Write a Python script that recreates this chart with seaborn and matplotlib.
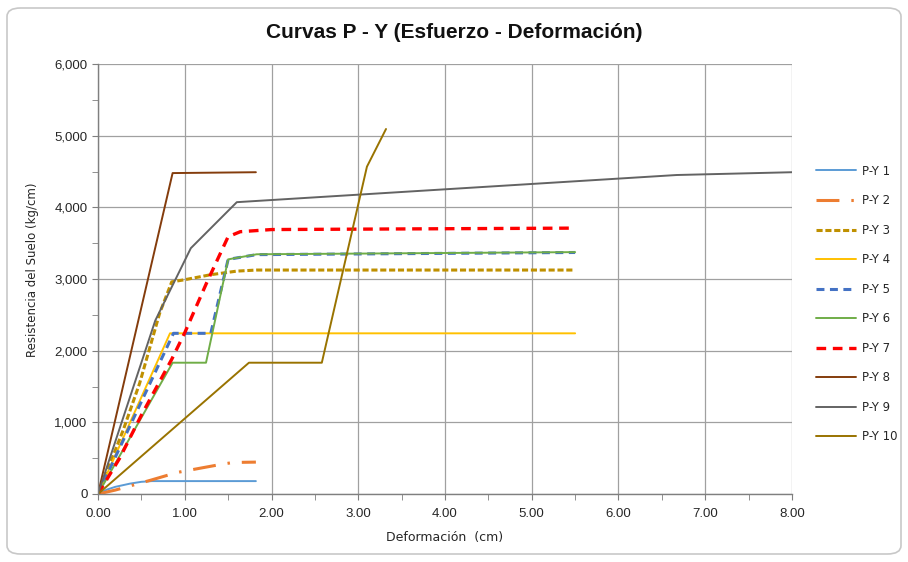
import matplotlib
matplotlib.use("Agg")
import matplotlib.pyplot as plt
import numpy as np
import pandas as pd
import seaborn as sns
from matplotlib.patches import FancyBboxPatch
from matplotlib.ticker import MultipleLocator, FuncFormatter

# ---- data (deformation cm, resistance kg/cm) ----
series_names = ["P-Y 1", "P-Y 2", "P-Y 3", "P-Y 4", "P-Y 5",
                "P-Y 6", "P-Y 7", "P-Y 8", "P-Y 9", "P-Y 10"]

py1_x = [0.0, 0.1, 0.2, 0.37, 0.5, 0.62, 1.82]
py1_y = [0, 60, 100, 145, 170, 180, 180]

py2_x = [0.0, 0.2, 0.41, 0.6, 0.91, 1.2, 1.44, 1.56, 1.82]
py2_y = [0, 55, 126, 190, 300, 365, 418, 440, 445]

py3_x = [0.0, 0.29, 0.48, 0.71, 0.85, 1.0, 1.3, 1.6, 1.83, 5.5]
py3_y = [0, 890, 1545, 2520, 2960, 2990, 3060, 3110, 3125, 3125]

py4_x = [0.0, 0.83, 5.5]
py4_y = [0, 2242, 2242]

py5_x = [0.0, 0.87, 1.30, 1.50, 1.83, 5.5]
py5_y = [0, 2242, 2242, 3274, 3340, 3370]

py6_x = [0.0, 0.86, 1.245, 1.50, 1.83, 5.5]
py6_y = [0, 1832, 1832, 3274, 3345, 3375]

py7_x = [0.0, 0.25, 0.5, 0.85, 1.0, 1.25, 1.5, 1.64, 2.0, 5.5]
py7_y = [0, 500, 1100, 1880, 2250, 2940, 3590, 3660, 3690, 3710]

py8_x = [0.0, 0.86, 1.82]
py8_y = [0, 4478, 4490]

py9_x = [0.0, 0.66, 1.07, 1.60, 6.67, 8.0]
py9_y = [0, 2420, 3430, 4072, 4451, 4490]

py10_x = [0.0, 1.74, 2.58, 3.10, 3.32]
py10_y = [0, 1832, 1832, 4567, 5093]

xs = [py1_x, py2_x, py3_x, py4_x, py5_x, py6_x, py7_x, py8_x, py9_x, py10_x]
ys = [py1_y, py2_y, py3_y, py4_y, py5_y, py6_y, py7_y, py8_y, py9_y, py10_y]

df = pd.concat(
    [pd.DataFrame({"serie": n, "x": x, "y": y}) for n, x, y in zip(series_names, xs, ys)],
    ignore_index=True,
)

# ---- styling ----
colors = ["#5B9BD5", "#ED7D31", "#BF9000", "#FFC000", "#4472C4",
          "#70AD47", "#FF0000", "#843C0C", "#636363", "#997300"]
widths = [1.4, 2.2, 2.2, 1.4, 2.2, 1.4, 2.4, 1.4, 1.4, 1.4]
styles = ["-", (0, (7.5, 3.9, 0.8, 3.9)), (0, (2.0, 0.9)), "-", (0, (2.6, 1.8)),
          "-", (0, (2.9, 2.0)), "-", "-", "-"]

sns.set_style("white")
plt.rcParams["font.family"] = ["Liberation Sans Narrow", "Liberation Sans", "DejaVu Sans"]

fig = plt.figure(figsize=(9.08, 5.62), dpi=100)
fig.patch.set_facecolor("white")
ax = fig.add_axes([98 / 908, 1 - 494 / 562, (792 - 98) / 908, (494 - 64) / 562])

# rounded chart border
border = FancyBboxPatch((7 / 908, 8 / 562), 894 / 908, 546 / 562,
                        boxstyle="round,pad=0,rounding_size=0.015",
                        transform=fig.transFigure, facecolor="none",
                        edgecolor="#C8C8C8", linewidth=1.2, zorder=0)
fig.patches.append(border)

for name, c, lw, ls in zip(series_names, colors, widths, styles):
    sub = df[df["serie"] == name]
    sns.lineplot(data=sub, x="x", y="y", ax=ax, color=c, linewidth=lw,
                 linestyle=ls, sort=False, estimator=None, label=name,
                 legend=False)

ax.set_xlim(0, 8)
ax.set_ylim(0, 6000)
ax.xaxis.set_major_locator(MultipleLocator(1))
ax.xaxis.set_minor_locator(MultipleLocator(0.5))
ax.yaxis.set_major_locator(MultipleLocator(1000))
ax.yaxis.set_minor_locator(MultipleLocator(500))
ax.xaxis.set_major_formatter(FuncFormatter(lambda v, p: f"{v:.2f}"))
ax.yaxis.set_major_formatter(FuncFormatter(lambda v, p: f"{v:,.0f}"))
ax.grid(True, which="major", color="#A0A0A0", linewidth=0.9)
ax.set_axisbelow(True)
for s in ["top", "right"]:
    ax.spines[s].set_visible(False)
for s in ["left", "bottom"]:
    ax.spines[s].set_color("#7F7F7F")
    ax.spines[s].set_linewidth(1.0)
ax.tick_params(which="both", direction="out", length=4, color="#7F7F7F",
               labelsize=9.5, labelcolor="#262626", left=True, bottom=True)
ax.tick_params(axis="x", pad=6)
ax.set_xlabel("")
ax.set_ylabel("")

fig.text(445 / 908, 1 - 538 / 562, "Deformación  (cm)", ha="center", va="center",
         fontsize=9, color="#262626", family=["DejaVu Sans"])
fig.text(33 / 908, 1 - 270 / 562, "Resistencia del Suelo (kg/cm)", ha="center",
         va="center", rotation=90, fontsize=8.5, color="#262626", family=["DejaVu Sans"])
fig.text(454 / 908, 1 - 33 / 562, "Curvas P - Y (Esfuerzo - Deformación)",
         ha="center", va="center", fontsize=15, fontweight="bold", color="#111111")

handles, labels = ax.get_legend_handles_labels()
ax.legend(handles, labels, loc="center left", bbox_to_anchor=(805 / 908, 1 - 304 / 562),
          bbox_transform=fig.transFigure, frameon=False,
          handlelength=3.4, labelspacing=1.4, handletextpad=0.5,
          prop={"family": ["DejaVu Sans"], "size": 8.5})

fig.savefig("out.png", dpi=100)
